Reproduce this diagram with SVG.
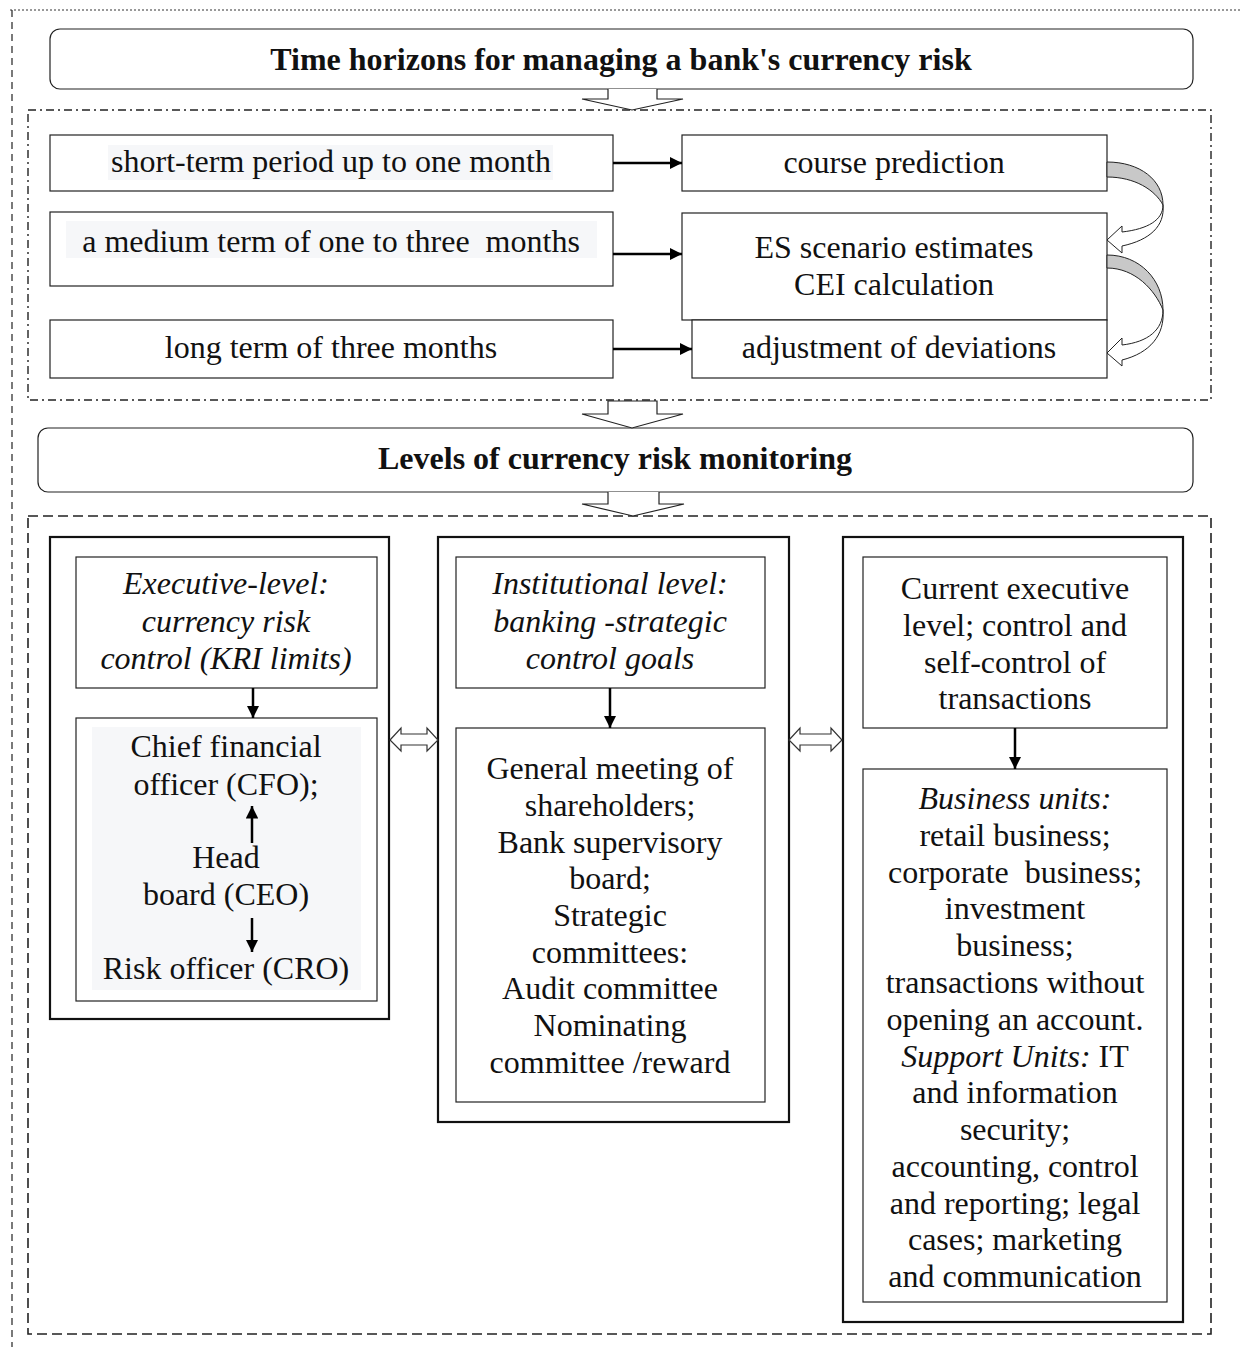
<svg xmlns="http://www.w3.org/2000/svg" width="1242" height="1347" viewBox="0 0 1242 1347">
<defs>
<style>
.t{font-family:"Liberation Serif","Times New Roman",serif;font-size:32px;fill:#111;text-anchor:middle}
.b{font-weight:bold}
.i{font-style:italic}
.box{fill:#fff;stroke:#222;stroke-width:1.2}
.col{fill:#fff;stroke:#111;stroke-width:2.2}
.title{fill:#fff;stroke:#222;stroke-width:1.2}
.bg{fill:#f6f7f9;stroke:none}
.ln{stroke:#000;stroke-width:2.5;fill:none}
.blk{fill:#fff;stroke:#222;stroke-width:1.2}
.dbl{fill:#fff;stroke:#333;stroke-width:1.2}
</style>
<marker id="ah" viewBox="0 0 10 10" refX="10" refY="5" markerWidth="5" markerHeight="5" orient="auto" markerUnits="strokeWidth">
<path d="M0,0 L10,5 L0,10 Z" fill="#000"/>
</marker>
</defs>
<rect width="1242" height="1347" fill="#fff"/>

<g id="frames">
<path d="M10,10 H1242" stroke="#333" stroke-width="1" stroke-dasharray="2,2" fill="none"/>
<path d="M12,10 V1347" stroke="#222" stroke-width="1.2" stroke-dasharray="7,5" fill="none"/>
<rect x="28" y="110" width="1183" height="290" fill="none" stroke="#222" stroke-width="1.4" stroke-dasharray="8,4,2,4"/>
<rect x="28" y="516" width="1183" height="818" fill="none" stroke="#222" stroke-width="1.6" stroke-dasharray="10,5"/>
</g>

<g id="title1">
<rect class="title" x="50" y="29" width="1143" height="60" rx="10"/>
<text class="t b" x="621" y="70">Time horizons for managing a bank's currency risk</text>
</g>

<g id="short">
<rect class="box" x="50" y="135" width="563" height="56"/>
<rect class="bg" x="108" y="145" width="445" height="35"/>
<text class="t" x="331" y="172">short-term period up to one month</text>
</g>
<g id="medium">
<rect class="box" x="50" y="212" width="563" height="74"/>
<rect class="bg" x="66" y="221" width="531" height="37"/>
<text class="t" x="331" y="252" xml:space="preserve">a medium term of one to three  months</text>
</g>
<g id="long">
<rect class="box" x="50" y="320" width="563" height="58"/>
<text class="t" x="331" y="358">long term of three months</text>
</g>
<g id="course">
<rect class="box" x="682" y="135" width="425" height="56"/>
<text class="t" x="894" y="173">course prediction</text>
</g>
<g id="es">
<rect class="box" x="682" y="213" width="425" height="107"/>
<text class="t" x="894" y="258">ES scenario estimates</text>
<text class="t" x="894" y="295">CEI calculation</text>
</g>
<g id="adjust">
<rect class="box" x="692" y="320" width="415" height="58"/>
<text class="t" x="899" y="358">adjustment of deviations</text>
</g>

<g id="title2">
<rect class="title" x="38" y="428" width="1155" height="64" rx="10"/>
<text class="t b" x="615" y="469">Levels of currency risk monitoring</text>
</g>

<g id="col1">
<rect class="col" x="50" y="537" width="339" height="482"/>
<rect class="box" x="76" y="557" width="301" height="131"/>
<text class="t i" x="226" y="594">Executive-level:</text>
<text class="t i" x="226" y="632">currency risk</text>
<text class="t i" x="226" y="669">control (KRI limits)</text>
<rect class="box" x="76" y="718" width="301" height="283"/>
<rect class="bg" x="92" y="727" width="269" height="263"/>
<text class="t" x="226" y="757">Chief financial</text>
<text class="t" x="226" y="795">officer (CFO);</text>
<text class="t" x="226" y="868">Head</text>
<text class="t" x="226" y="905">board (CEO)</text>
<text class="t" x="226" y="979">Risk officer (CRO)</text>
</g>

<g id="col2">
<rect class="col" x="438" y="537" width="351" height="585"/>
<rect class="box" x="456" y="557" width="309" height="131"/>
<text class="t i" x="610" y="594">Institutional level:</text>
<text class="t i" x="610" y="632">banking -strategic</text>
<text class="t i" x="610" y="669">control goals</text>
<rect class="box" x="456" y="728" width="309" height="374"/>
<text class="t" x="610" y="779">General meeting of</text>
<text class="t" x="610" y="816">shareholders;</text>
<text class="t" x="610" y="853">Bank supervisory</text>
<text class="t" x="610" y="889">board;</text>
<text class="t" x="610" y="926">Strategic</text>
<text class="t" x="610" y="963">committees:</text>
<text class="t" x="610" y="999">Audit committee</text>
<text class="t" x="610" y="1036">Nominating</text>
<text class="t" x="610" y="1073">committee /reward</text>
</g>

<g id="col3">
<rect class="col" x="843" y="537" width="340" height="785"/>
<rect class="box" x="863" y="557" width="304" height="171"/>
<text class="t" x="1015" y="599">Current executive</text>
<text class="t" x="1015" y="636">level; control and</text>
<text class="t" x="1015" y="673">self-control of</text>
<text class="t" x="1015" y="709">transactions</text>
<rect class="box" x="863" y="769" width="304" height="533"/>
<text class="t i" x="1015" y="809">Business units:</text>
<text class="t" x="1015" y="846">retail business;</text>
<text class="t" x="1015" y="883" xml:space="preserve">corporate  business;</text>
<text class="t" x="1015" y="919">investment</text>
<text class="t" x="1015" y="956">business;</text>
<text class="t" x="1015" y="993">transactions without</text>
<text class="t" x="1015" y="1030">opening an account.</text>
<text class="t" x="1015" y="1067"><tspan class="i">Support Units:</tspan> IT</text>
<text class="t" x="1015" y="1103">and information</text>
<text class="t" x="1015" y="1140">security;</text>
<text class="t" x="1015" y="1177">accounting, control</text>
<text class="t" x="1015" y="1214">and reporting; legal</text>
<text class="t" x="1015" y="1250">cases; marketing</text>
<text class="t" x="1015" y="1287">and communication</text>
</g>

<g id="connectors">
<path class="blk" d="M608,89 V99 H582 L632,110 L683,99 H657 V89"/>
<path class="blk" d="M608,401 V414 H582 L632,428 L683,414 H657 V401 Z"/>
<path class="blk" d="M608,492 V504 H582 L633,516 L684,504 H659 V492"/>

<line class="ln" x1="613" y1="163" x2="682" y2="163" marker-end="url(#ah)"/>
<line class="ln" x1="613" y1="254" x2="682" y2="254" marker-end="url(#ah)"/>
<line class="ln" x1="613" y1="349" x2="692" y2="349" marker-end="url(#ah)"/>

<path d="M1107,162 C1140,162 1163,180 1163,205 C1155,190 1135,177 1107,177 Z" fill="#c8c8c8" stroke="#222" stroke-width="1"/>
<path d="M1163,205 C1163,220 1148,229 1122,232 L1122,226 L1107,240 L1122,253 L1122,246 C1150,240 1165,226 1163,205 Z" fill="#fff" stroke="#222" stroke-width="1"/>
<path d="M1107,255 C1140,255 1163,280 1163,310 C1155,290 1135,268 1107,268 Z" fill="#c8c8c8" stroke="#222" stroke-width="1"/>
<path d="M1163,310 C1163,330 1148,342 1122,345 L1122,338 L1107,353 L1122,366 L1122,360 C1150,353 1165,335 1163,310 Z" fill="#fff" stroke="#222" stroke-width="1"/>

<line class="ln" x1="253" y1="688" x2="253" y2="718" marker-end="url(#ah)"/>
<line class="ln" x1="252" y1="843" x2="252" y2="806" marker-end="url(#ah)"/>
<line class="ln" x1="252" y1="918" x2="252" y2="952" marker-end="url(#ah)"/>
<line class="ln" x1="610" y1="688" x2="610" y2="728" marker-end="url(#ah)"/>
<line class="ln" x1="1015" y1="728" x2="1015" y2="769" marker-end="url(#ah)"/>

<path class="dbl" d="M390,740 L401,728 V734 H427 V728 L438,740 L427,751 V745 H401 V751 Z"/>
<path class="dbl" d="M789,740 L800,728 V734 H831 V728 L842,740 L831,751 V745 H800 V751 Z"/>
</g>
</svg>
